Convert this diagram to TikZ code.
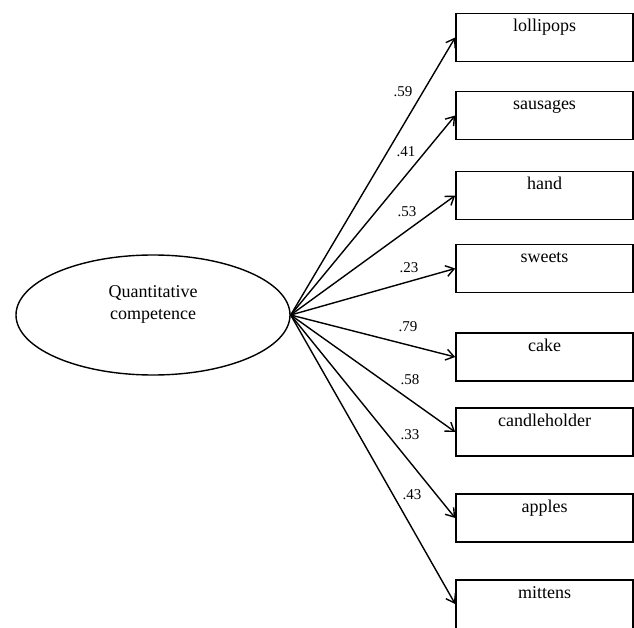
\documentclass[tikz,border=0pt]{standalone}
\usepackage{fontspec}
\setmainfont{Liberation Serif}
\usetikzlibrary{shapes.geometric,arrows.meta}
\begin{document}
\begin{tikzpicture}[x=1pt,y=-1pt,
  obox/.style={draw=black,line width=1.6pt,rectangle,minimum width=177pt,minimum height=48pt,inner sep=0pt},
  btext/.style={anchor=base,inner sep=0pt,font=\fontsize{18}{20}\selectfont},
  lbl/.style={inner sep=0pt,font=\fontsize{15}{17}\selectfont},
  path/.style={draw=black,line width=1.4pt,-{Straight Barb[length=8pt,width=11pt,line width=1.4pt]}}
]
\useasboundingbox (0,0) rectangle (634,628);
\clip (0,0) rectangle (634,628);
\fill[white] (0,0) rectangle (634,628);

\node[draw=black,line width=1.4pt,ellipse,minimum width=274pt,minimum height=120pt,inner sep=0pt] (Q) at (153,315) {};
\node[btext] (qt1) at (153,297) {Quantitative};
\node[btext] (qt2) at (153,319) {competence};

\node[obox] (b1) at (544.5,37.5) {};
\node[obox] (b2) at (544.5,115.5) {};
\node[obox] (b3) at (544.5,195.5) {};
\node[obox] (b4) at (544.5,268.5) {};
\node[obox] (b5) at (544.5,357) {};
\node[obox] (b6) at (544.5,432) {};
\node[obox] (b7) at (544.5,518) {};
\node[obox,minimum height=56pt] (b8) at (544.5,608) {};

\node[btext] (t1) at ([yshift=-19pt]b1.north) {lollipops};
\node[btext] (t2) at ([yshift=-19pt]b2.north) {sausages};
\node[btext] (t3) at ([yshift=-19pt]b3.north) {hand};
\node[btext] (t4) at ([yshift=-19pt]b4.north) {sweets};
\node[btext] (t5) at ([yshift=-19pt]b5.north) {cake};
\node[btext] (t6) at ([yshift=-19pt]b6.north) {candleholder};
\node[btext] (t7) at ([yshift=-19pt]b7.north) {apples};
\node[btext] (t8) at ([yshift=-19pt]b8.north) {mittens};

\foreach \i in {1,...,7} {\draw[path] (Q.east) -- (b\i.west);}
\draw[path] (Q.east) -- ([yshift=4pt]b8.west);

\node[lbl] (l1) at (403,92) {.59};
\node[lbl] (l2) at (406,152) {.41};
\node[lbl] (l3) at (407,212) {.53};
\node[lbl] (l4) at (409,268) {.23};
\node[lbl] (l5) at (408,327) {.79};
\node[lbl] (l6) at (410,380) {.58};
\node[lbl] (l7) at (410,435) {.33};
\node[lbl] (l8) at (412,495) {.43};
\end{tikzpicture}
\end{document}
